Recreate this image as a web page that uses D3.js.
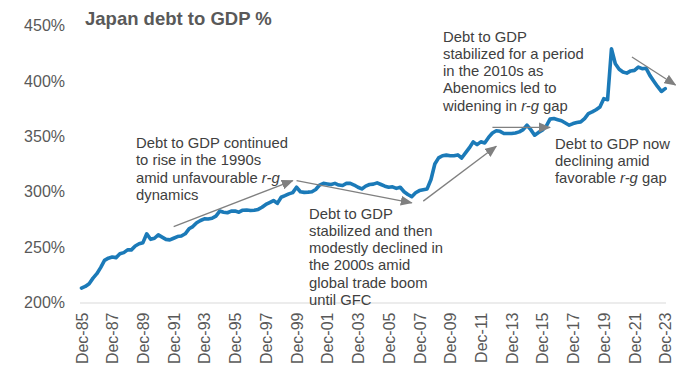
<!DOCTYPE html>
<html>
<head>
<meta charset="utf-8">
<script src="https://cdn.jsdelivr.net/npm/d3@7"></script>
<style>
  html, body { margin: 0; padding: 0; background: #fff; }
  svg { display: block; font-family: "Liberation Sans", Arial, sans-serif; }
</style>
</head>
<body>
<svg id="chart" width="676" height="366"></svg>
<script>
// ---- Data (quarterly, Japan debt to GDP %, starting Dec-85) ----
const startQuarter = "1985-12-01";
const debtToGdp = [
  213, 214.5, 217, 222, 226, 231.5, 238, 240, 241, 240.5,
  244, 245, 247.5, 247.5, 251, 253, 254, 262, 257, 258,
  261, 259, 257, 256.5, 258, 259.5, 260, 262, 266.5, 268.5,
  272, 274, 275.5, 275.4, 276, 278, 282.5, 281.5, 281, 282.5,
  282.5, 281.5, 283.3, 283.5, 283, 283.3, 284, 286, 288.5, 290.2,
  292, 289.5, 295, 296.4, 298, 299.2, 304, 300, 299.4, 299.6,
  300, 302, 306, 307.5, 307, 306.5, 307.5, 306, 305.6, 307.5,
  307.5, 306, 304, 302.5, 305, 306.5, 306.8, 308, 306.5, 305,
  304, 304.4, 303, 304, 300, 297.5, 295.5, 299, 301, 301.8,
  302.5, 311, 325, 330.5, 332.5, 333, 332.4, 332.5, 333.2, 330.4,
  335, 339.5, 345, 342.5, 345, 344, 349, 353, 355, 354.5,
  352.5, 352.5, 352.5, 353, 354, 356, 360, 356, 351, 353.5,
  355.5, 359, 365.5, 366, 365, 364, 362, 360, 361.5, 362.5,
  363, 366, 370.5, 372, 374, 376.5, 384, 383, 429, 415.5,
  410.5, 408, 407, 409, 409.5, 412.5, 411, 411.5, 405, 400,
  395, 390.5, 393
];
const xTickLabels = ["Dec-85","Dec-87","Dec-89","Dec-91","Dec-93","Dec-95","Dec-97","Dec-99",
  "Dec-01","Dec-03","Dec-05","Dec-07","Dec-09","Dec-11","Dec-13","Dec-15","Dec-17","Dec-19",
  "Dec-21","Dec-23"];
const yTickValues = [200, 250, 300, 350, 400, 450];
const titleText = "Japan debt to GDP %";

// annotations: text lines (segments with italic flag)
const annotations = [
  { x: 136, y: 148, lines: [
    [["Debt to GDP continued"]],
    [["to rise in the 1990s"]],
    [["amid unfavourable "], ["r-g", true]],
    [["dynamics"]]
  ]},
  { x: 309, y: 218.5, lines: [
    [["Debt to GDP"]],
    [["stabilized and then"]],
    [["modestly declined in"]],
    [["the 2000s amid"]],
    [["global trade boom"]],
    [["until GFC"]]
  ]},
  { x: 443, y: 41.5, lines: [
    [["Debt to GDP"]],
    [["stabilized for a period"]],
    [["in the 2010s as"]],
    [["Abenomics led to"]],
    [["widening in "], ["r-g", true], [" gap"]]
  ]},
  { x: 555, y: 148.5, lines: [
    [["Debt to GDP now"]],
    [["declining amid"]],
    [["favorable "], ["r-g", true], [" gap"]]
  ]}
];
// arrows: [fromDate, fromValue, toDate, toValue]
const arrows = [
  ["1991-12-01", 268.5, "1999-09-01", 310],
  ["1999-12-01", 310, "2007-06-01", 290],
  ["2008-03-01", 291.5, "2012-12-01", 341],
  ["2012-09-01", 358, "2016-06-01", 358],
  ["2021-10-01", 421.6, "2024-08-01", 396.3]
];

// ---- Drawing ----
const svg = d3.select("#chart");
const parseDate = d3.timeParse("%Y-%m-%d");
const parseTick = d3.timeParse("%b-%y");
const start = parseDate(startQuarter);
const points = debtToGdp.map((v, i) => ({ date: d3.timeMonth.offset(start, 3 * i), value: v }));

const x = d3.scaleTime()
  .domain([parseTick("Dec-85"), parseTick("Dec-23")])
  .range([81.5, 665.2]);
const y = d3.scaleLinear().domain([200, 450]).range([302.5, 25.5]);

const textColor = "#595959";

// x axis
const xAxis = d3.axisBottom(x)
  .tickValues(xTickLabels.map(parseTick))
  .tickFormat(d3.timeFormat("%b-%y"))
  .tickSize(0)
  .tickSizeOuter(0);
const gx = svg.append("g").attr("transform", `translate(0,${y(200)})`).call(xAxis);
gx.select(".domain").attr("stroke", "#d9d9d9").attr("stroke-width", 1.2)
  .attr("d", `M80,0.5H666`);
gx.selectAll(".tick text")
  .attr("fill", textColor)
  .attr("font-size", 16)
  .attr("font-family", "Liberation Sans, Arial, sans-serif")
  .attr("text-anchor", "end")
  .attr("transform", "rotate(-90)")
  .attr("x", -10)
  .attr("y", 0)
  .attr("dy", "0.35em");

// y axis
const yAxis = d3.axisLeft(y)
  .tickValues(yTickValues)
  .tickFormat(d => d + "%")
  .tickSize(0)
  .tickPadding(15);
const gy = svg.append("g").attr("transform", "translate(80,0)").call(yAxis);
gy.select(".domain").remove();
gy.selectAll(".tick text")
  .attr("fill", textColor)
  .attr("font-size", 16)
  .attr("font-family", "Liberation Sans, Arial, sans-serif");

// line
const line = d3.line().x(d => x(d.date)).y(d => y(d.value));
svg.append("path")
  .datum(points)
  .attr("fill", "none")
  .attr("stroke", "#1b7ab8")
  .attr("stroke-width", 3.6)
  .attr("stroke-linejoin", "round")
  .attr("stroke-linecap", "round")
  .attr("d", line);

// title
svg.append("text")
  .attr("x", 85).attr("y", 25)
  .attr("fill", textColor)
  .attr("font-size", 18.5)
  .attr("font-weight", "bold")
  .text(titleText);

// arrow marker
svg.append("defs").append("marker")
  .attr("id", "ah")
  .attr("viewBox", "0 0 12 10")
  .attr("refX", 11).attr("refY", 5)
  .attr("markerWidth", 12).attr("markerHeight", 10)
  .attr("markerUnits", "userSpaceOnUse")
  .attr("orient", "auto")
  .append("path").attr("d", "M0,0L12,5L0,10Z").attr("fill", "#808080");

arrows.forEach(a => {
  svg.append("line")
    .attr("x1", x(parseDate(a[0]))).attr("y1", y(a[1]))
    .attr("x2", x(parseDate(a[2]))).attr("y2", y(a[3]))
    .attr("stroke", "#808080").attr("stroke-width", 1.3)
    .attr("marker-end", "url(#ah)");
});

// annotations
annotations.forEach(an => {
  const t = svg.append("text")
    .attr("fill", "#404040")
    .attr("font-size", 14.8);
  an.lines.forEach((segs, li) => {
    segs.forEach((s, si) => {
      const ts = t.append("tspan").text(s[0]);
      if (si === 0) ts.attr("x", an.x).attr("y", an.y + li * 17.3);
      if (s[1]) ts.attr("font-style", "italic");
    });
  });
});
</script>
</body>
</html>
